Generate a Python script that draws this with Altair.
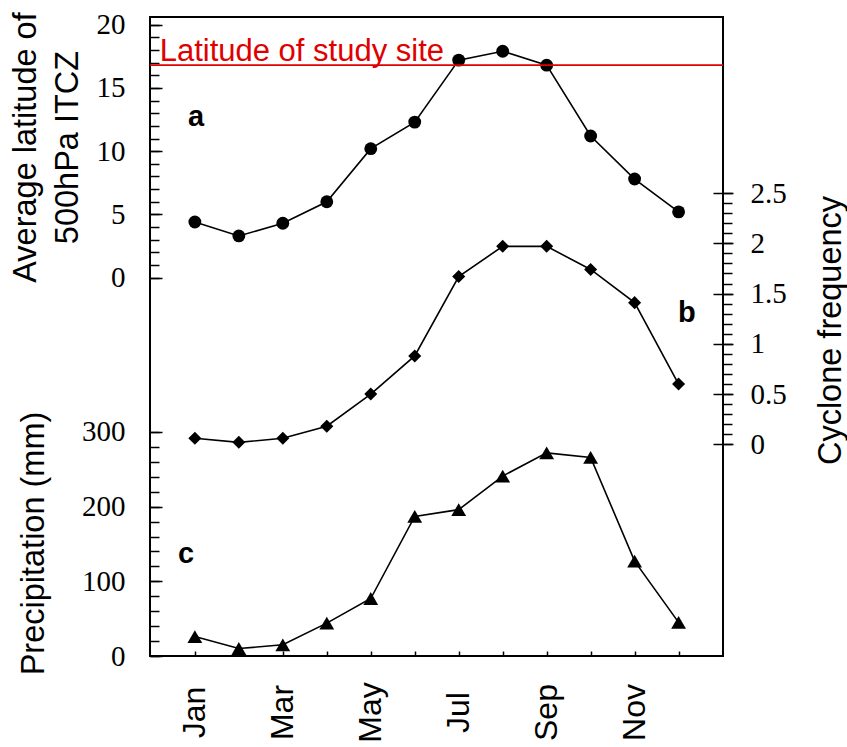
import json
import altair as alt
import pandas as pd

# ---------------- data ----------------
month_num = [1, 2, 3, 4, 5, 6, 7, 8, 9, 10, 11, 12]
month_names = ["Jan", "Feb", "Mar", "Apr", "May", "Jun",
               "Jul", "Aug", "Sep", "Oct", "Nov", "Dec"]
itcz_lat = [4.4, 3.3, 4.3, 6.0, 10.2, 12.3, 17.2, 17.9, 16.8, 11.2, 7.8, 5.2]
cyclone_freq = [0.06, 0.02, 0.06, 0.18, 0.50, 0.88, 1.67, 1.97, 1.97, 1.74, 1.41, 0.60]
precip_mm = [26, 10, 15, 44, 77, 187, 196, 241, 272, 266, 127, 45]
study_site_lat = [16.8]
study_site_label = ["Latitude of study site"]

itcz_ticks = [0, 1, 2, 3, 4, 5, 6, 7, 8, 9, 10, 11, 12, 13, 14, 15, 16, 17, 18, 19, 20]
itcz_major = [0, 5, 10, 15, 20]
cyc_ticks = [0, 0.1, 0.2, 0.3, 0.4, 0.5, 0.6, 0.7, 0.8, 0.9, 1.0, 1.1, 1.2,
             1.3, 1.4, 1.5, 1.6, 1.7, 1.8, 1.9, 2.0, 2.1, 2.2, 2.3, 2.4, 2.5]
cyc_major = [0, 0.5, 1, 1.5, 2, 2.5]
precip_ticks = [0, 20, 40, 60, 80, 100, 120, 140, 160, 180, 200, 220, 240, 260, 280, 300]
precip_major = [0, 100, 200, 300]

panel_letters = ["a", "b", "c"]
panel_letter_m = [1.03, 12.19, 0.80]
panel_letter_v = [12.0, 1.22, 124.5]

# ---------------- tables ----------------
df = pd.DataFrame({"m": month_num, "itcz": itcz_lat, "cyc": cyclone_freq, "pr": precip_mm})
site_rule = pd.DataFrame({"itcz": study_site_lat})
site_text = pd.DataFrame({"m": [0.2], "itcz": [17.13], "t": study_site_label})
lab_a = pd.DataFrame({"m": [panel_letter_m[0]], "itcz": [panel_letter_v[0]], "t": [panel_letters[0]]})
lab_b = pd.DataFrame({"m": [panel_letter_m[1]], "cyc": [panel_letter_v[1]], "t": [panel_letters[1]]})
lab_c = pd.DataFrame({"m": [panel_letter_m[2]], "pr": [panel_letter_v[2]], "t": [panel_letters[2]]})

ITCZ_DOM = [-29.91, 20.61]
CYC_DOM = [-2.106, 4.252]
PR_DOM = [0, 855.8]

odd_labels = [""] + [n if i % 2 == 0 else "" for i, n in enumerate(month_names)]
month_expr = json.dumps(odd_labels) + "[datum.value]"
NUM_EXPR = "'' + datum.value"
SERIF = "Liberation Serif"
SANS = "Liberation Sans"
LAB_FS = 29

xenc = alt.X(
    "m:Q",
    scale=alt.Scale(domain=[-0.02, 13.01], nice=False, zero=False),
    axis=alt.Axis(values=month_num, labelExpr=month_expr, tickSize=5, offset=-5,
                  labelAngle=270, labelAlign="center", labelBaseline="middle",
                  labelPadding=56, labelFont=SANS, labelFontSize=32,
                  labelOverlap=False, labelFlush=False, title=None),
)


def yenc(field, dom, axis):
    return alt.Y(f"{field}:Q", scale=alt.Scale(domain=dom, nice=False, zero=False), axis=axis)


itcz_major_axis = alt.Axis(orient="left", values=itcz_major, tickSize=12, offset=-12,
                           labelPadding=25, labelExpr=NUM_EXPR, labelFlush=False,
                           labelFont=SERIF, labelFontSize=LAB_FS, labelOverlap=False,
                           title=["Average latitude of", "500hPa ITCZ"], titleAngle=270,
                           titleAlign="center", titleBaseline="alphabetic",
                           titleX=-127, titleY=130, titleLineHeight=42)
itcz_minor_axis = alt.Axis(orient="left", values=itcz_ticks, tickSize=9, offset=-9,
                           labels=False, title=None)
pr_major_axis = alt.Axis(orient="left", values=precip_major, tickSize=12, offset=-12,
                         labelPadding=25, labelExpr=NUM_EXPR, labelFlush=False,
                         labelFont=SERIF, labelFontSize=LAB_FS, labelOverlap=False,
                         title="Precipitation (mm)", titleAngle=270,
                         titleAlign="center", titleBaseline="alphabetic",
                         titleX=-119, titleY=526)
pr_minor_axis = alt.Axis(orient="left", values=precip_ticks, tickSize=9, offset=-9,
                         labels=False, title=None)
cyc_minor_axis = alt.Axis(orient="right", values=cyc_ticks, tickSize=9, offset=0,
                          labels=False, title=None)
cyc_major_axis = alt.Axis(orient="right", values=cyc_major, tickSize=20, offset=-10,
                          labelPadding=17, labelExpr=NUM_EXPR, labelFlush=False,
                          labelFont=SERIF, labelFontSize=LAB_FS, labelOverlap=False,
                          title="Cyclone frequency", titleAngle=270,
                          titleAlign="center", titleBaseline="alphabetic",
                          titleX=127, titleY=313)

base = alt.Chart(df)
LW = 1.6

itcz_line = base.mark_line(color="black", strokeWidth=LW).encode(
    x=xenc, y=yenc("itcz", ITCZ_DOM, itcz_major_axis))
itcz_pts = base.mark_point(filled=True, shape="circle", size=165, color="black", opacity=1).encode(
    x=xenc, y=yenc("itcz", ITCZ_DOM, itcz_minor_axis))
rule = alt.Chart(site_rule).mark_rule(color="#e00000", strokeWidth=1.7).encode(
    y=yenc("itcz", ITCZ_DOM, None))
rule_text = alt.Chart(site_text).mark_text(
    color="#e00000", font=SANS, fontSize=31, align="left", baseline="alphabetic"
).encode(x=xenc, y=yenc("itcz", ITCZ_DOM, None), text="t:N")
a_text = alt.Chart(lab_a).mark_text(
    font=SANS, fontSize=29, fontWeight="bold", align="center", baseline="alphabetic", color="black"
).encode(x=xenc, y=yenc("itcz", ITCZ_DOM, None), text="t:N")

cyc_line = base.mark_line(color="black", strokeWidth=LW).encode(
    x=xenc, y=yenc("cyc", CYC_DOM, cyc_minor_axis))
cyc_pts = base.mark_point(filled=True, shape="diamond", size=170, color="black", opacity=1).encode(
    x=xenc, y=yenc("cyc", CYC_DOM, cyc_major_axis))
b_text = alt.Chart(lab_b).mark_text(
    font=SANS, fontSize=29, fontWeight="bold", align="center", baseline="alphabetic", color="black"
).encode(x=xenc, y=yenc("cyc", CYC_DOM, None), text="t:N")

pr_line = base.mark_line(color="black", strokeWidth=LW).encode(
    x=xenc, y=yenc("pr", PR_DOM, pr_major_axis))
pr_pts = base.mark_point(filled=True, shape="triangle-up", size=220, color="black", opacity=1).encode(
    x=xenc, y=yenc("pr", PR_DOM, pr_minor_axis))
c_text = alt.Chart(lab_c).mark_text(
    font=SANS, fontSize=29, fontWeight="bold", align="center", baseline="alphabetic", color="black"
).encode(x=xenc, y=yenc("pr", PR_DOM, None), text="t:N")

chart = alt.layer(
    itcz_line, itcz_pts, rule, rule_text, a_text,
    cyc_line, cyc_pts, b_text,
    pr_line, pr_pts, c_text,
).resolve_scale(y="independent").properties(
    width=573, height=639,
    autosize=alt.AutoSizeParams(type="none"),
    padding={"left": 150, "top": 17, "right": 124, "bottom": 91},
    background="white",
).configure_view(
    stroke="black", strokeWidth=2
).configure_axis(
    domain=False, grid=False, tickColor="black", tickWidth=1.5,
    labelColor="black", labelFont=SERIF, labelFontSize=LAB_FS,
    titleFont=SANS, titleFontSize=32.5, titleFontWeight="normal",
    titleColor="black",
)

chart.save("out.html", embed_options={"renderer": "svg", "actions": False})
